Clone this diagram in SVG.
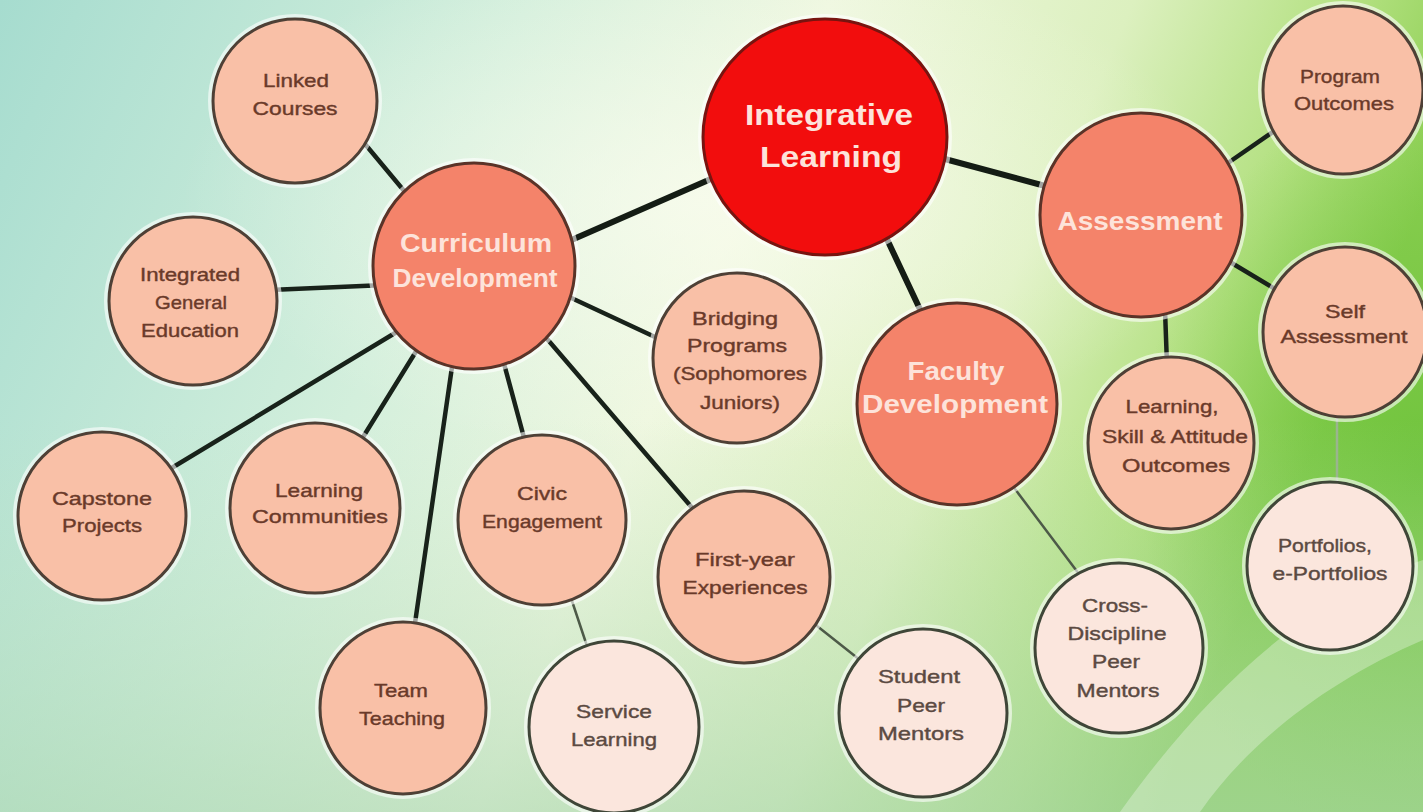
<svg xmlns="http://www.w3.org/2000/svg" width="1423" height="812" viewBox="0 0 1423 812">
<defs>
<linearGradient id="bg" x1="0" y1="0" x2="1" y2="0.25">
<stop offset="0" stop-color="#a6dccf"/>
<stop offset="0.35" stop-color="#d3efdc"/>
<stop offset="0.55" stop-color="#eef7df"/>
<stop offset="0.75" stop-color="#dcf0bf"/>
<stop offset="0.9" stop-color="#b2e07f"/>
<stop offset="1" stop-color="#8ccf52"/>
</linearGradient>
<radialGradient id="glow" cx="0.5" cy="0.5" r="0.5">
<stop offset="0" stop-color="#fbfdf0" stop-opacity="0.7"/>
<stop offset="1" stop-color="#fbfdf0" stop-opacity="0"/>
</radialGradient>
<radialGradient id="greenR" cx="0.5" cy="0.5" r="0.5">
<stop offset="0" stop-color="#6cc23a" stop-opacity="0.85"/>
<stop offset="1" stop-color="#6cc23a" stop-opacity="0"/>
</radialGradient>
<linearGradient id="bottom" x1="0" y1="0" x2="0" y2="1">
<stop offset="0" stop-color="#b9dfc0" stop-opacity="0"/>
<stop offset="1" stop-color="#a9d6b0" stop-opacity="0.6"/>
</linearGradient>
</defs>
<style>
.halo{fill:none;stroke:#ffffff;stroke-opacity:0.6;stroke-width:4}
.red{fill:#f20d0d;stroke:#781410;stroke-width:3}
.med{fill:#f4836a;stroke:#5a3328;stroke-width:3}
.lt{fill:#f9c0a7;stroke:#4e4036;stroke-width:3}
.pl{fill:#fbe6dd;stroke:#3f4638;stroke-width:3}
.mt{font-family:"Liberation Sans",Arial,sans-serif;font-weight:bold;fill:#fde3da;text-anchor:middle}
.st{font-family:"Liberation Sans",Arial,sans-serif;font-size:19px;fill:#6a3a2a;text-anchor:middle;stroke:#6a3a2a;stroke-width:0.4}
.sp{font-family:"Liberation Sans",Arial,sans-serif;font-size:19px;fill:#5b4a42;text-anchor:middle;stroke:#5b4a42;stroke-width:0.4}
.c1{stroke:#141c14;stroke-width:6;stroke-linecap:round}
.c2{stroke:#18221a;stroke-width:4.5;stroke-linecap:round}
.c3{stroke:#4d5a48;stroke-width:2.5;stroke-linecap:round}
.c4{stroke:#9ab58e;stroke-width:2.5;stroke-linecap:round}
</style>
<rect width="1423" height="812" fill="url(#bg)"/>
<ellipse cx="700" cy="200" rx="520" ry="260" fill="url(#glow)"/>
<ellipse cx="1420" cy="470" rx="280" ry="380" fill="url(#greenR)"/>
<rect x="0" y="420" width="1423" height="392" fill="url(#bottom)"/>
<path d="M1120 812 C1200 700 1300 600 1423 560 L1423 640 C1330 680 1250 740 1200 812 Z" fill="#ffffff" fill-opacity="0.3"/>
<g id="connectors">
<line class="c1" x1="720" y1="175" x2="560" y2="245"/>
<line class="c1" x1="930" y1="155" x2="1060" y2="190"/>
<line class="c1" x1="885" y1="235" x2="925" y2="320"/>
<line class="c2" x1="360" y1="138" x2="420" y2="210"/>
<line class="c2" x1="270" y1="290" x2="385" y2="285"/>
<line class="c2" x1="165" y1="472" x2="400" y2="330"/>
<line class="c2" x1="360" y1="442" x2="420" y2="345"/>
<line class="c2" x1="414" y1="630" x2="453" y2="360"/>
<line class="c2" x1="526" y1="445" x2="503" y2="360"/>
<line class="c2" x1="694" y1="510" x2="548" y2="340"/>
<line class="c2" x1="565" y1="295" x2="670" y2="344"/>
<line class="c2" x1="1225" y1="165" x2="1280" y2="127"/>
<line class="c2" x1="1230" y1="262" x2="1280" y2="292"/>
<line class="c2" x1="1165" y1="310" x2="1167" y2="365"/>
<line class="c3" x1="1012" y1="485" x2="1082" y2="578"/>
<line class="c3" x1="570" y1="595" x2="590" y2="655"/>
<line class="c3" x1="812" y1="622" x2="865" y2="664"/>
<line class="c4" x1="1337" y1="410" x2="1337" y2="490"/>
</g>
<g id="integrative-learning">
<ellipse class="halo" cx="825" cy="137" rx="125" ry="121"/>
<ellipse class="red" cx="825" cy="137" rx="122" ry="118"/>
<text class="mt" x="829" y="125" font-size="30" textLength="168" lengthAdjust="spacingAndGlyphs">Integrative</text>
<text class="mt" x="831" y="167" font-size="30" textLength="142" lengthAdjust="spacingAndGlyphs">Learning</text>
</g>
<g id="curriculum-development">
<ellipse class="halo" cx="474" cy="266" rx="104" ry="106"/>
<ellipse class="med" cx="474" cy="266" rx="101" ry="103"/>
<text class="mt" x="476" y="252" font-size="25" textLength="152" lengthAdjust="spacingAndGlyphs">Curriculum</text>
<text class="mt" x="475" y="287" font-size="25" textLength="165" lengthAdjust="spacingAndGlyphs">Development</text>
</g>
<g id="assessment">
<ellipse class="halo" cx="1141" cy="215" rx="104" ry="105"/>
<ellipse class="med" cx="1141" cy="215" rx="101" ry="102"/>
<text class="mt" x="1140" y="230" font-size="25" textLength="165" lengthAdjust="spacingAndGlyphs">Assessment</text>
</g>
<g id="faculty-development">
<ellipse class="halo" cx="957" cy="404" rx="103" ry="104"/>
<ellipse class="med" cx="957" cy="404" rx="100" ry="101"/>
<text class="mt" x="956" y="380" font-size="25" textLength="97" lengthAdjust="spacingAndGlyphs">Faculty</text>
<text class="mt" x="955" y="413" font-size="25" textLength="186" lengthAdjust="spacingAndGlyphs">Development</text>
</g>
<g id="linked-courses">
<ellipse class="halo" cx="295" cy="101" rx="85" ry="85"/>
<ellipse class="lt" cx="295" cy="101" rx="82" ry="82"/>
<text class="st" x="296" y="87" textLength="66" lengthAdjust="spacingAndGlyphs">Linked</text>
<text class="st" x="295" y="115" textLength="85" lengthAdjust="spacingAndGlyphs">Courses</text>
</g>
<g id="integrated-general-education">
<ellipse class="halo" cx="193" cy="301" rx="87" ry="87"/>
<ellipse class="lt" cx="193" cy="301" rx="84" ry="84"/>
<text class="st" x="190" y="281" textLength="100" lengthAdjust="spacingAndGlyphs">Integrated</text>
<text class="st" x="191" y="309" textLength="72" lengthAdjust="spacingAndGlyphs">General</text>
<text class="st" x="190" y="337" textLength="98" lengthAdjust="spacingAndGlyphs">Education</text>
</g>
<g id="capstone-projects">
<ellipse class="halo" cx="102" cy="516" rx="87" ry="87"/>
<ellipse class="lt" cx="102" cy="516" rx="84" ry="84"/>
<text class="st" x="102" y="505" textLength="100" lengthAdjust="spacingAndGlyphs">Capstone</text>
<text class="st" x="102" y="532" textLength="80" lengthAdjust="spacingAndGlyphs">Projects</text>
</g>
<g id="learning-communities">
<ellipse class="halo" cx="315" cy="508" rx="88" ry="88"/>
<ellipse class="lt" cx="315" cy="508" rx="85" ry="85"/>
<text class="st" x="319" y="497" textLength="88" lengthAdjust="spacingAndGlyphs">Learning</text>
<text class="st" x="320" y="523" textLength="136" lengthAdjust="spacingAndGlyphs">Communities</text>
</g>
<g id="civic-engagement">
<ellipse class="halo" cx="542" cy="520" rx="87" ry="88"/>
<ellipse class="lt" cx="542" cy="520" rx="84" ry="85"/>
<text class="st" x="542" y="500" textLength="50" lengthAdjust="spacingAndGlyphs">Civic</text>
<text class="st" x="542" y="528" textLength="120" lengthAdjust="spacingAndGlyphs">Engagement</text>
</g>
<g id="first-year-experiences">
<ellipse class="halo" cx="744" cy="577" rx="89" ry="89"/>
<ellipse class="lt" cx="744" cy="577" rx="86" ry="86"/>
<text class="st" x="745" y="566" textLength="100" lengthAdjust="spacingAndGlyphs">First-year</text>
<text class="st" x="745" y="594" textLength="125" lengthAdjust="spacingAndGlyphs">Experiences</text>
</g>
<g id="bridging-programs">
<ellipse class="halo" cx="737" cy="358" rx="87" ry="88"/>
<ellipse class="lt" cx="737" cy="358" rx="84" ry="85"/>
<text class="st" x="735" y="325" textLength="86" lengthAdjust="spacingAndGlyphs">Bridging</text>
<text class="st" x="737" y="352" textLength="100" lengthAdjust="spacingAndGlyphs">Programs</text>
<text class="st" x="740" y="380" textLength="134" lengthAdjust="spacingAndGlyphs">(Sophomores</text>
<text class="st" x="740" y="409" textLength="80" lengthAdjust="spacingAndGlyphs">Juniors)</text>
</g>
<g id="team-teaching">
<ellipse class="halo" cx="403" cy="708" rx="86" ry="89"/>
<ellipse class="lt" cx="403" cy="708" rx="83" ry="86"/>
<text class="st" x="401" y="697" textLength="54" lengthAdjust="spacingAndGlyphs">Team</text>
<text class="st" x="402" y="725" textLength="86" lengthAdjust="spacingAndGlyphs">Teaching</text>
</g>
<g id="service-learning">
<ellipse class="halo" cx="614" cy="727" rx="88" ry="89"/>
<ellipse class="pl" cx="614" cy="727" rx="85" ry="86"/>
<text class="sp" x="614" y="718" textLength="76" lengthAdjust="spacingAndGlyphs">Service</text>
<text class="sp" x="614" y="746" textLength="86" lengthAdjust="spacingAndGlyphs">Learning</text>
</g>
<g id="student-peer-mentors">
<ellipse class="halo" cx="923" cy="713" rx="87" ry="87"/>
<ellipse class="pl" cx="923" cy="713" rx="84" ry="84"/>
<text class="sp" x="919" y="683" textLength="82" lengthAdjust="spacingAndGlyphs">Student</text>
<text class="sp" x="921" y="712" textLength="48" lengthAdjust="spacingAndGlyphs">Peer</text>
<text class="sp" x="921" y="740" textLength="86" lengthAdjust="spacingAndGlyphs">Mentors</text>
</g>
<g id="cross-discipline-peer-mentors">
<ellipse class="halo" cx="1119" cy="648" rx="87" ry="88"/>
<ellipse class="pl" cx="1119" cy="648" rx="84" ry="85"/>
<text class="sp" x="1115" y="612" textLength="66" lengthAdjust="spacingAndGlyphs">Cross-</text>
<text class="sp" x="1117" y="640" textLength="99" lengthAdjust="spacingAndGlyphs">Discipline</text>
<text class="sp" x="1116" y="668" textLength="48" lengthAdjust="spacingAndGlyphs">Peer</text>
<text class="sp" x="1118" y="697" textLength="83" lengthAdjust="spacingAndGlyphs">Mentors</text>
</g>
<g id="learning-skill-attitude-outcomes">
<ellipse class="halo" cx="1171" cy="443" rx="86" ry="89"/>
<ellipse class="lt" cx="1171" cy="443" rx="83" ry="86"/>
<text class="st" x="1172" y="413" textLength="93" lengthAdjust="spacingAndGlyphs">Learning,</text>
<text class="st" x="1175" y="443" textLength="146" lengthAdjust="spacingAndGlyphs">Skill &amp; Attitude</text>
<text class="st" x="1176" y="472" textLength="108" lengthAdjust="spacingAndGlyphs">Outcomes</text>
</g>
<g id="self-assessment">
<ellipse class="halo" cx="1345" cy="332" rx="85" ry="88"/>
<ellipse class="lt" cx="1345" cy="332" rx="82" ry="85"/>
<text class="st" x="1345" y="318" textLength="40" lengthAdjust="spacingAndGlyphs">Self</text>
<text class="st" x="1344" y="343" textLength="127" lengthAdjust="spacingAndGlyphs">Assessment</text>
</g>
<g id="portfolios">
<ellipse class="halo" cx="1330" cy="566" rx="86" ry="87"/>
<ellipse class="pl" cx="1330" cy="566" rx="83" ry="84"/>
<text class="sp" x="1325" y="552" textLength="94" lengthAdjust="spacingAndGlyphs">Portfolios,</text>
<text class="sp" x="1330" y="580" textLength="115" lengthAdjust="spacingAndGlyphs">e-Portfolios</text>
</g>
<g id="program-outcomes">
<ellipse class="halo" cx="1343" cy="90" rx="83" ry="87"/>
<ellipse class="lt" cx="1343" cy="90" rx="80" ry="84"/>
<text class="st" x="1340" y="83" textLength="80" lengthAdjust="spacingAndGlyphs">Program</text>
<text class="st" x="1344" y="110" textLength="100" lengthAdjust="spacingAndGlyphs">Outcomes</text>
</g>
</svg>
